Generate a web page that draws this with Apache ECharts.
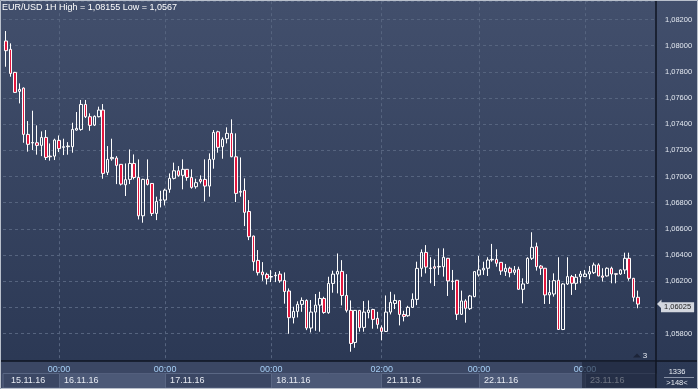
<!DOCTYPE html>
<html><head><meta charset="utf-8">
<script src="https://cdn.jsdelivr.net/npm/echarts@6/dist/echarts.min.js"></script>
<style>html,body{margin:0;padding:0;background:#2f3c58;}#c{width:698px;height:389px;}</style>
</head><body><div id="c"></div>
<script>
// ---- data (hourly bars, index 0 = first full bar shown) ----
const firstIndex = -1;
const opens = [
1.07745,
1.08036,1.07972,1.07796,1.07651,1.07676,1.07322,1.07256,1.07258,1.07238,1.07299,
1.07156,1.07156,1.07276,1.07223,1.07228,1.07228,1.07355,1.07360,1.07551,1.07457,
1.07393,1.07457,1.07508,1.07032,1.07136,1.07141,1.07093,1.06937,1.06978,1.07100,
1.06993,1.06700,1.06978,1.06947,1.06718,1.06818,1.06820,1.06902,1.06986,1.07044,
1.07009,1.07055,1.06993,1.06922,1.06978,1.06978,1.06927,1.07131,1.07342,1.07228,
1.07289,1.07330,1.07151,1.06880,1.06894,1.06733,1.06545,1.06359,1.06270,1.06252,
1.06236,1.06242,1.06254,1.06206,1.06125,1.05921,1.05969,1.06023,1.06053,1.05842,
1.05964,1.06017,1.06068,1.05959,1.06183,1.06254,1.06275,1.06091,1.05977,1.05732,
1.05977,1.05847,1.05961,1.05984,1.05916,1.05844,1.05816,1.05964,1.06030,1.06051,
1.05946,1.05936,1.06000,1.06061,1.06298,1.06420,1.06297,1.06311,1.06309,1.06311,
1.06375,1.06197,1.06207,1.05947,1.06049,1.05990,1.06082,1.06248,1.06286,1.06299,
1.06363,1.06367,1.06344,1.06273,1.06299,1.06268,1.06291,1.06138,1.06184,1.06375,
1.06464,1.06316,1.06299,1.06095,1.06102,1.06207,1.05831,1.06179,1.06235,1.06184,
1.06235,1.06235,1.06255,1.06265,1.06324,1.06240,1.06240,1.06299,1.06257,1.06255,
1.06286,1.06375,1.06222,1.06077
];
const closes = [
1.08036,
1.07962,1.07788,1.07643,1.07666,1.07322,1.07246,1.07260,1.07238,1.07299,1.07146,
1.07151,1.07279,1.07213,1.07228,1.07233,1.07360,1.07368,1.07551,1.07457,1.07391,
1.07460,1.07508,1.07024,1.07131,1.07146,1.07085,1.06942,1.06976,1.07100,1.06993,
1.06700,1.06978,1.06940,1.06718,1.06810,1.06822,1.06896,1.06986,1.07044,1.07009,
1.07055,1.06993,1.06917,1.06953,1.06963,1.06927,1.07131,1.07337,1.07223,1.07284,
1.07330,1.07151,1.06871,1.06886,1.06726,1.06540,1.06349,1.06265,1.06249,1.06219,
1.06232,1.06246,1.06203,1.06121,1.05921,1.05969,1.06023,1.06053,1.05842,1.05964,
1.06017,1.06068,1.05961,1.06183,1.06254,1.06275,1.06091,1.05977,1.05724,1.05977,
1.05844,1.05964,1.05979,1.05908,1.05870,1.05816,1.05964,1.06038,1.06053,1.05946,
1.05931,1.06000,1.06061,1.06298,1.06420,1.06308,1.06301,1.06299,1.06313,1.06383,
1.06202,1.06201,1.05947,1.06049,1.05993,1.06087,1.06273,1.06286,1.06299,1.06362,
1.06367,1.06337,1.06278,1.06299,1.06265,1.06286,1.06138,1.06179,1.06375,1.06459,
1.06311,1.06299,1.06095,1.06113,1.06204,1.05831,1.06179,1.06235,1.06184,1.06230,
1.06255,1.06255,1.06273,1.06324,1.06240,1.06230,1.06299,1.06255,1.06253,1.06286,
1.06375,1.06222,1.06077,1.06025
];
const lows = [
1.07730,
1.07839,1.07763,1.07640,1.07559,1.07258,1.07190,1.07202,1.07167,1.07156,1.07126,
1.07121,1.07126,1.07187,1.07164,1.07167,1.07182,1.07350,1.07350,1.07447,1.07350,
1.07386,1.07452,1.06983,1.07011,1.07121,1.06942,1.06932,1.06851,1.06942,1.06978,
1.06672,1.06647,1.06932,1.06698,1.06667,1.06764,1.06779,1.06876,1.06978,1.06998,
1.06902,1.06968,1.06907,1.06907,1.06947,1.06810,1.06846,1.07060,1.07182,1.07136,
1.07253,1.07148,1.06805,1.06846,1.06621,1.06514,1.06280,1.06244,1.06203,1.06175,
1.06193,1.06193,1.06188,1.06028,1.05798,1.05877,1.05923,1.05966,1.05826,1.05808,
1.05821,1.05814,1.05951,1.05951,1.06112,1.06107,1.06015,1.05961,1.05661,1.05691,
1.05814,1.05814,1.05916,1.05837,1.05837,1.05748,1.05812,1.05946,1.05987,1.05862,
1.05893,1.05928,1.05997,1.06017,1.06234,1.06260,1.06184,1.06163,1.06248,1.06235,
1.06087,1.06133,1.05904,1.05942,1.05883,1.05980,1.06077,1.06235,1.06248,1.06240,
1.06349,1.06311,1.06248,1.06240,1.06230,1.06248,1.06136,1.06031,1.06179,1.06362,
1.06281,1.06248,1.06026,1.06026,1.06082,1.05828,1.05826,1.06171,1.06095,1.06133,
1.06184,1.06233,1.06215,1.06255,1.06238,1.06197,1.06235,1.06184,1.06184,1.06248,
1.06255,1.06204,1.06044,1.05993
];
const highs = [
1.08060,
1.08112,1.08018,1.07800,1.07712,1.07681,1.07424,1.07503,1.07391,1.07345,1.07355,
1.07253,1.07289,1.07314,1.07289,1.07263,1.07411,1.07493,1.07585,1.07585,1.07483,
1.07467,1.07534,1.07554,1.07233,1.07289,1.07156,1.07095,1.07100,1.07207,1.07169,
1.07131,1.06983,1.07131,1.06950,1.06846,1.06891,1.06907,1.07024,1.07106,1.07080,
1.07131,1.07057,1.07055,1.06983,1.07009,1.07131,1.07177,1.07355,1.07350,1.07299,
1.07376,1.07437,1.07330,1.07146,1.06986,1.06820,1.06548,1.06438,1.06346,1.06265,
1.06285,1.06270,1.06277,1.06267,1.06145,1.06005,1.06046,1.06076,1.06061,1.06056,
1.06102,1.06119,1.06081,1.06234,1.06280,1.06412,1.06361,1.06254,1.06053,1.05980,
1.05980,1.06048,1.06053,1.05989,1.05966,1.05862,1.06091,1.06119,1.06099,1.06055,
1.05974,1.06012,1.06107,1.06349,1.06443,1.06476,1.06383,1.06367,1.06451,1.06451,
1.06378,1.06286,1.06210,1.06128,1.06062,1.06095,1.06276,1.06393,1.06349,1.06383,
1.06485,1.06444,1.06346,1.06332,1.06311,1.06316,1.06311,1.06222,1.06383,1.06574,
1.06495,1.06324,1.06301,1.06209,1.06260,1.06383,1.06185,1.06383,1.06248,1.06255,
1.06278,1.06286,1.06316,1.06342,1.06337,1.06299,1.06306,1.06311,1.06258,1.06291,
1.06418,1.06418,1.06225,1.06128
];
// ---- axis labels ----
const timeTicks  = [12, 36, 60, 85, 107, 131];
const timeLabels = ['00:00', '00:00', '00:00', '02:00', '00:00', '00:00'];
const dateTicks  = [0, 12, 36, 60, 85, 107, 131];
const dateLabels = ['15.11.16', '16.11.16', '17.11.16', '18.11.16', '21.11.16', '22.11.16', '23.11.16'];
const lastPrice = 1.06025;
const titleText = 'EUR/USD 1H High = 1,08155 Low = 1,0567';
const barsTotalText = '1336';
const barsVisibleText = '>148<';
const markerText = '3';

const FONT = '"Liberation Sans", Arial, sans-serif';
const fmtPrice = v => v.toFixed(5).replace('.', ',');
const candles = opens.map((o, i) => [firstIndex + i, o, closes[i], lows[i], highs[i]]);
const X_MIN = -0.68, X_MAX = 147.06;
const Y_MIN = 1.056, Y_MAX = 1.0834;
const gridC = '#56647f';
const yLineColors = [];
for (let v = Y_MIN; v < Y_MAX + 0.003; v += 0.002) yLineColors.push(gridC);
yLineColors[0] = 'rgba(0,0,0,0)';
yLineColors.push('rgba(0,0,0,0)');
yLineColors[yLineColors.length - 2] = 'rgba(0,0,0,0)';

const baseGraphics = [
    {type: 'rect', z: -100, silent: true, shape: {x: 0, y: 0, width: 698, height: 389},
      style: {fill: {type: 'linear', x: 0, y: 0, x2: 0, y2: 1,
        colorStops: [{offset: 0, color: '#424f6c'}, {offset: 1, color: '#2a3753'}]}}},
    {type: 'rect', z: -50, silent: true, shape: {x: 0, y: 361, width: 656, height: 28},
      style: {fill: '#3b4764'}},
    {type: 'rect', z: 100, silent: true, shape: {x: 582, y: 362, width: 74, height: 26},
      style: {fill: 'rgba(24,32,52,0.6)'}},
    {type: 'line', z: 101, silent: true, shape: {x1: 0, y1: 361, x2: 698, y2: 361},
      style: {stroke: '#0f1422', lineWidth: 1.5}},
    {type: 'line', z: 101, silent: true, shape: {x1: 656, y1: 0, x2: 656, y2: 389},
      style: {stroke: '#0f1422', lineWidth: 1.5}},
    {type: 'line', z: 101, silent: true, shape: {x1: 664, y1: 377.5, x2: 694, y2: 377.5},
      style: {stroke: '#8a94a8', lineWidth: 1}},
    {type: 'text', z: 101, silent: true, style: {text: barsTotalText, x: 677, y: 372,
      align: 'center', verticalAlign: 'middle', fill: '#e8ecf3', font: '7.5px ' + FONT}},
    {type: 'text', z: 101, silent: true, style: {text: barsVisibleText, x: 677, y: 383,
      align: 'center', verticalAlign: 'middle', fill: '#e8ecf3', font: '7.5px ' + FONT}},
    {type: 'text', z: 101, silent: true, style: {text: markerText, x: 645, y: 355.5,
      align: 'center', verticalAlign: 'middle', fill: '#e8ecf3', font: '8px ' + FONT}},
    {type: 'polygon', z: 101, silent: true, shape: {points: [[633, 357.5], [637, 353.5], [641, 357.5]]},
      style: {fill: '#1c2438'}},
    {type: 'rect', z: 102, silent: true, shape: {x: 0.5, y: 0.5, width: 697, height: 388},
      style: {fill: 'none', stroke: '#b9c0cc', lineWidth: 1}}
];

const chart = echarts.init(document.getElementById('c'), null, {renderer: 'canvas'});
chart.setOption({
  animation: false,
  backgroundColor: 'transparent',
  title: {text: titleText, left: 2, top: 3, padding: 0,
    textStyle: {fontSize: 9, color: '#ffffff', fontWeight: 'normal', fontFamily: FONT}},
  grid: [
    {left: 3, right: 42, top: 1.2, bottom: 29.3},
    {left: 3, right: 42, top: 373.5, height: 14.5, show: true, borderColor: '#5a6784', borderWidth: 1, backgroundColor: 'rgba(0,0,0,0)'}
  ],
  xAxis: [
    {type: 'value', gridIndex: 0, min: X_MIN, max: X_MAX,
      axisLine: {show: false}, axisTick: {show: false, customValues: timeTicks},
      splitLine: {show: true, lineStyle: {color: gridC, type: [3, 3], width: 1}},
      axisLabel: {customValues: timeTicks, formatter: v => timeLabels[timeTicks.indexOf(v)],
        color: '#a6cff5', fontSize: 9, fontFamily: FONT, margin: 5}},
    {type: 'value', gridIndex: 1, min: X_MIN, max: X_MAX, position: 'top',
      axisLine: {show: false}, axisTick: {show: false, customValues: timeTicks},
      splitLine: {show: true, lineStyle: {color: '#5a6784', width: 1}},
      splitArea: {show: true, areaStyle: {color: ['#4c5977', 'rgba(0,0,0,0)']}},
      axisLabel: {inside: true, customValues: dateTicks,
        formatter: v => dateLabels[dateTicks.indexOf(v)], align: 'left', padding: [0, 0, 0, 5],
        color: '#e6eaf2', fontSize: 9, fontFamily: FONT, margin: 3}}
  ],
  yAxis: [
    {type: 'value', gridIndex: 0, position: 'right', min: Y_MIN, max: Y_MAX, interval: 0.002,
      axisLine: {show: false}, axisTick: {show: false},
      splitLine: {show: true, lineStyle: {color: yLineColors, type: [3, 3], width: 1}},
      axisLabel: {showMinLabel: false, showMaxLabel: false, formatter: fmtPrice,
        color: '#e3e8f0', fontSize: 7.5, fontFamily: FONT, margin: 9}},
    {type: 'value', gridIndex: 1, show: false}
  ],
  series: [{
    type: 'candlestick', xAxisIndex: 0, yAxisIndex: 0, data: candles,
    encode: {x: 0, y: [1, 2, 3, 4]},
    barWidth: 3, clip: true,
    itemStyle: {color: 'rgba(0,0,0,0)', color0: '#e3173e', borderColor: '#ffffff',
      borderColor0: '#ffffff', borderColorDoji: '#ffffff', borderWidth: 1},
    markLine: {silent: true, symbol: ['none', 'arrow'], symbolSize: [0, 0], animation: false,
      lineStyle: {color: 'rgba(0,0,0,0)', width: 1, type: 'solid'},
      label: {show: true, position: 'end', formatter: () => fmtPrice(lastPrice), distance: 5,
        backgroundColor: '#d3d7df', color: '#1a1a1a', fontSize: 7.5, fontFamily: FONT,
        padding: [1, 3, 1, 3], opacity: 1},
      emphasis: {disabled: true},
      data: [{yAxis: lastPrice}]}
  }],
  graphic: baseGraphics
});
// arrow of the last-price tag, placed through the y scale
const tagY = chart.convertToPixel({yAxisIndex: 0}, lastPrice);
chart.setOption({graphic: baseGraphics.concat([
  {type: 'polygon', z: 103, silent: true,
    shape: {points: [[657, tagY], [661.5, tagY - 4.5], [661.5, tagY + 4.5]]},
    style: {fill: '#d3d7df'}}
])});
</script></body></html>
